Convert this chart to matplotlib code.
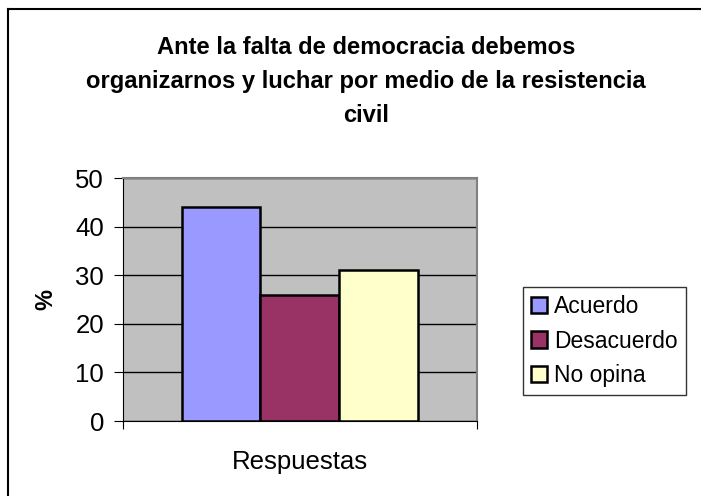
import matplotlib.pyplot as plt
from matplotlib.lines import Line2D

plt.rcParams['font.family'] = ['Liberation Sans', 'DejaVu Sans']

# datos
categorias = ["Acuerdo", "Desacuerdo", "No opina"]
valores = [44, 26, 31]
colores = ["#9999FF", "#993366", "#FFFFCC"]
titulo = "Ante la falta de democracia debemos\norganizarnos y luchar por medio de la resistencia\ncivil"

fig = plt.figure(figsize=(7.01, 4.96), dpi=100)
ax = fig.add_axes([0.175, 0.151, 0.5055, 0.490])

# barras lado a lado en una sola categoria
posiciones = [-1, 0, 1]
for pos, val, col, cat in zip(posiciones, valores, colores, categorias):
    ax.bar(pos, val, width=1.0, color=col, edgecolor="black", linewidth=1.8,
           label=cat, zorder=3)

ax.set_xlim(-2.25, 2.25)
ax.set_ylim(0, 50)
ax.set_yticks(range(0, 51, 10))
ax.set_facecolor("#C0C0C0")
ax.yaxis.grid(True, color="black", linewidth=1, zorder=1)

for lado in ["top", "right"]:
    ax.spines[lado].set_color("#808080")
    ax.spines[lado].set_linewidth(1.5)
ax.spines["left"].set_color("black")
ax.spines["bottom"].set_color("black")

ax.tick_params(axis="y", labelsize=18.5, length=6.5, direction="out", pad=7)
ax.set_xticks([-2.25, 2.25])
ax.set_xticklabels(["", ""])
ax.tick_params(axis="x", length=6, direction="out")

ax.set_ylabel("%", fontsize=17, fontweight="bold", labelpad=13)
fig.text(0.428, 0.069, "Respuestas", fontsize=18.5, ha="center", va="center")

fig.text(0.522, 0.836, titulo, fontsize=17.1, fontweight="bold",
         ha="center", va="center", linespacing=1.6)

ley = fig.legend(loc="upper left", bbox_to_anchor=(0.746, 0.421), fontsize=16.5,
                 frameon=True, fancybox=False, edgecolor="black",
                 handlelength=0.72, handleheight=0.72, handletextpad=0.3,
                 labelspacing=0.5, borderpad=0.35, borderaxespad=0)
ley.get_frame().set_linewidth(1)

# borde exterior (solo izquierda y arriba)
fig.add_artist(Line2D([8/701, 8/701], [0, 1 - 9/496], transform=fig.transFigure,
                      color="black", linewidth=1.5))
fig.add_artist(Line2D([8/701, 1], [1 - 9/496, 1 - 9/496], transform=fig.transFigure,
                      color="black", linewidth=1.5))

fig.savefig("out.png", dpi=100)
